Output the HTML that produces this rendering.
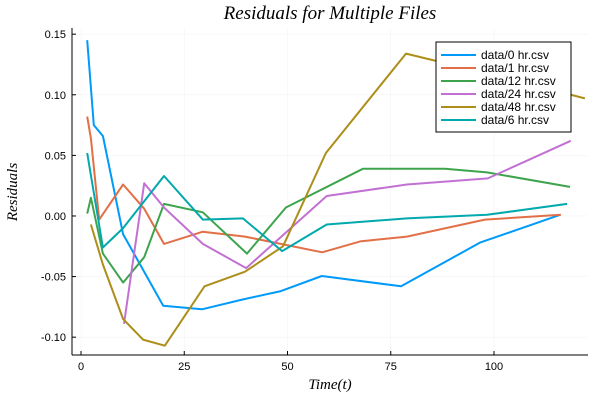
<!DOCTYPE html>
<html><head><meta charset="utf-8"><style>
html,body{margin:0;padding:0;background:#fff;}
svg{display:block;font-family:"Liberation Sans",sans-serif;}
</style></head><body>
<svg id="chart" width="600" height="400" viewBox="0 0 600 400">
<text x="330" y="19" text-anchor="middle" font-family="Liberation Serif,serif" font-style="italic" font-size="19" fill="#000">Residuals for Multiple Files</text>
<text x="330" y="389" text-anchor="middle" font-family="Liberation Serif,serif" font-style="italic" font-size="15" fill="#000">Time(t)</text>
<text transform="translate(17,192) rotate(-90)" text-anchor="middle" font-family="Liberation Serif,serif" font-style="italic" font-size="15" fill="#000">Residuals</text>
<g id="grid"></g><g id="axes"></g><g id="series"></g><g id="legend"></g>
</svg>
<script>
const seriesNames = ["data/0 hr.csv","data/1 hr.csv","data/12 hr.csv","data/24 hr.csv","data/48 hr.csv","data/6 hr.csv"];
const seriesColors = ["#009af9","#e26f46","#3da44d","#c271d2","#ac8e18","#00a9ad"];
const xTicks = [0,25,50,75,100];
const yTicks = [-0.10,-0.05,0.00,0.05,0.10,0.15];
const yTickLabels = ["-0.10","-0.05","0.00","0.05","0.10","0.15"];
const t0 = [1.5,3.1,5.3,10.2,19.9,29.3,39,48.4,58.3,77.5,96.6,116];
const v0 = [0.145,0.075,0.066,-0.015,-0.074,-0.077,-0.069,-0.062,-0.0495,-0.058,-0.022,0.001];
const t1 = [1.5,2.4,4.4,10.2,15.3,20.1,29.5,39.7,58.4,67.6,78.9,97.8,116.2];
const v1 = [0.082,0.064,-0.003,0.026,0.006,-0.023,-0.013,-0.017,-0.030,-0.021,-0.017,-0.003,0.001];
const t12 = [1.5,2.4,5.3,10.2,15.3,20.1,29.5,40.2,49.6,68.3,88.1,98.3,118.4];
const v12 = [0.002,0.015,-0.031,-0.055,-0.034,0.010,0.003,-0.031,0.007,0.039,0.039,0.036,0.024];
const t24 = [10.4,15.3,20.1,29.5,40.0,59.5,78.9,98.5,118.6];
const v24 = [-0.089,0.027,0.007,-0.023,-0.043,0.0165,0.026,0.031,0.062];
const t48 = [2.4,5.3,10.2,15.0,20.3,29.9,39.7,48.9,59.3,78.7,98,122];
const v48 = [-0.007,-0.040,-0.085,-0.102,-0.107,-0.058,-0.046,-0.025,0.052,0.134,0.118,0.097];
const t6 = [1.5,5.3,10.2,20.1,29.5,39.2,48.7,59.5,78.9,98.3,117.7];
const v6 = [0.052,-0.026,-0.010,0.033,-0.003,-0.002,-0.029,-0.007,-0.002,0.001,0.010];
const allT = [t0,t1,t12,t24,t48,t6];
const allV = [v0,v1,v12,v24,v48,v6];

const NS="http://www.w3.org/2000/svg";
const L=72,R=588,T=28,B=355;
const xMin=-2.18,xMax=122.76,yMin=-0.1147,yMax=0.1551;
const xs=t=>L+(t-xMin)/(xMax-xMin)*(R-L);
const ys=v=>B-(v-yMin)/(yMax-yMin)*(B-T);
function mk(tag,attrs,parent){const e=document.createElementNS(NS,tag);for(const k in attrs)e.setAttribute(k,attrs[k]);parent.appendChild(e);return e;}
const grid=document.getElementById('grid'),axes=document.getElementById('axes'),ser=document.getElementById('series'),leg=document.getElementById('legend');
xTicks.forEach(t=>{
  const g=mk('line',{x1:xs(t),x2:xs(t),y1:T,y2:B,stroke:'#000','stroke-opacity':0.06,'stroke-width':0.5},grid);
  
  
  const tk=mk('line',{x1:xs(t),x2:xs(t),y1:B,y2:B-4,stroke:'#000','stroke-width':1},axes);
  
  
  const lb=mk('text',{x:xs(t),y:B+15,'text-anchor':'middle','font-size':11,fill:'#000'},axes);
  lb.textContent=t;
  
  
});
yTicks.forEach((v,i)=>{
  const g=mk('line',{x1:L,x2:R,y1:ys(v),y2:ys(v),stroke:'#000','stroke-opacity':0.06,'stroke-width':0.5},grid);
  
  
  const tk=mk('line',{x1:L,x2:L+4,y1:ys(v),y2:ys(v),stroke:'#000','stroke-width':1},axes);
  
  
  const lb=mk('text',{x:L-6,y:ys(v)+4,'text-anchor':'end','font-size':11,fill:'#000'},axes);
  lb.textContent=yTickLabels[i];
  
  
});
const xa=mk('line',{x1:L,x2:R,y1:B,y2:B,stroke:'#000','stroke-width':1},axes);


const ya=mk('line',{x1:L,x2:L,y1:T,y2:B,stroke:'#000','stroke-width':1},axes);


allT.forEach((ts,i)=>{
  const pts=ts.map((t,j)=>xs(t).toFixed(1)+','+ys(allV[i][j]).toFixed(1)).join(' ');
  const p=mk('polyline',{points:pts,fill:'none',stroke:seriesColors[i],'stroke-width':2,'stroke-linejoin':'round'},ser);
  
  
});
const box=mk('rect',{x:436,y:42,width:135,height:90,fill:'#fff',stroke:'#000','stroke-width':1},leg);


seriesNames.forEach((n,i)=>{
  const y=55+i*13;
  const ln=mk('line',{x1:441,x2:476,y1:y,y2:y,stroke:seriesColors[i],'stroke-width':2},leg);
  
  
  const tx=mk('text',{x:481,y:y+4,'font-size':12,fill:'#000'},leg);
  tx.textContent=n;
  
  
});
</script>
</body></html>
